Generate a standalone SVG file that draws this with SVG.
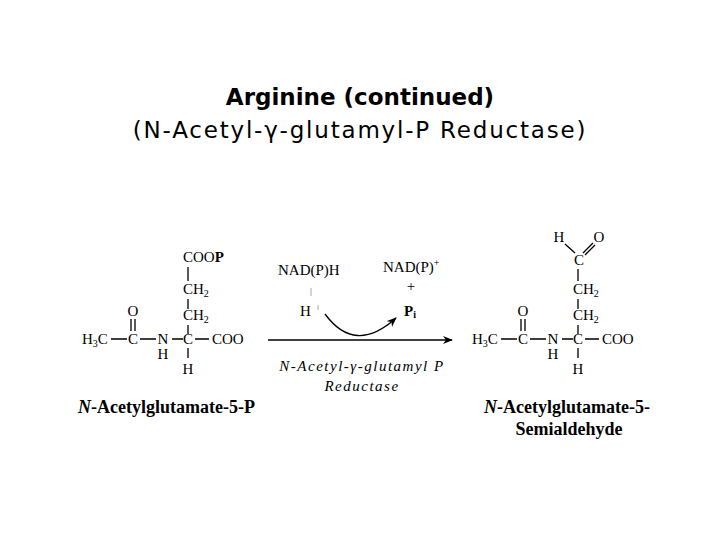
<svg xmlns="http://www.w3.org/2000/svg" width="720" height="540" viewBox="0 0 720 540">
<defs>
<style>
.t{font-family:"DejaVu Sans",sans-serif;font-size:23px;fill:#000;text-anchor:middle}
.c{font-family:"Liberation Serif",serif;font-size:15px;fill:#000}
.m{text-anchor:middle}
.b{font-weight:bold}
.l{stroke:#000;stroke-width:1.3;fill:none}
.lb{font-family:"Liberation Serif",serif;font-size:18px;font-weight:bold;fill:#000}
</style>
<marker id="ah" markerWidth="10" markerHeight="8" refX="9" refY="4" orient="auto" markerUnits="userSpaceOnUse"><path d="M0,0 L10,4 L0,8 L3,4Z" fill="#000"/></marker>
</defs>
<rect width="720" height="540" fill="#fff"/>
<g id="title">
<text class="t" x="360" y="105" font-weight="bold">Arginine (continued)</text>
<text class="t" x="360" y="138" letter-spacing="1.8">(N-Acetyl-γ-glutamyl-P Reductase)</text>
</g>
<g id="substrate">
<text class="c" x="82" y="344">H<tspan font-size="10" dy="3">3</tspan><tspan dy="-3">C</tspan></text>
<text class="c m" x="133" y="344">C</text>
<text class="c m" x="133" y="316">O</text>
<text class="c m" x="163" y="344">N</text>
<text class="c m" x="163" y="359" font-size="11">H</text>
<text class="c m" x="188" y="344">C</text>
<text class="c" x="212" y="344">COO</text>
<text class="c m" x="188" y="374">H</text>
<text class="c" x="183" y="320">CH<tspan font-size="10" dy="3">2</tspan></text>
<text class="c" x="183" y="294">CH<tspan font-size="10" dy="3">2</tspan></text>
<text class="c" x="183" y="262">COO<tspan class="b">P</tspan></text>
<path class="l" d="M111,339H127M140,339H156M172,339H183M195,339H209M131,319V331M135,319V331M188,299V309M188,325V334M188,267V281M188,348V358"/>
<text class="lb" x="78" y="413"><tspan font-style="italic">N</tspan>-Acetylglutamate-5-P</text>
</g>
<g id="product">
<text class="c" x="472" y="344">H<tspan font-size="10" dy="3">3</tspan><tspan dy="-3">C</tspan></text>
<text class="c m" x="523" y="344">C</text>
<text class="c m" x="523" y="316">O</text>
<text class="c m" x="553" y="344">N</text>
<text class="c m" x="553" y="359" font-size="11">H</text>
<text class="c m" x="578" y="344">C</text>
<text class="c" x="602" y="344">COO</text>
<text class="c m" x="578" y="374">H</text>
<text class="c" x="573" y="320">CH<tspan font-size="10" dy="3">2</tspan></text>
<text class="c" x="573" y="294">CH<tspan font-size="10" dy="3">2</tspan></text>
<text class="c m" x="579" y="265">C</text>
<text class="c m" x="559" y="242">H</text>
<text class="c m" x="599" y="242">O</text>
<path class="l" d="M501,339H517M530,339H546M562,339H573M585,339H599M521,319V331M525,319V331M578,299V309M578,325V334M578,269V281M578,348V358M565,244L575,253M583,253L593,243M585,255L595,245"/>
<text class="lb" x="484" y="413"><tspan font-style="italic">N</tspan>-Acetylglutamate-5-</text>
<text class="lb" x="569" y="435" text-anchor="middle">Semialdehyde</text>
</g>
<g id="connectors">
<path class="l" d="M268,340H452" marker-end="url(#ah)"/>
<path class="l" d="M325,314Q355,355 396,318" marker-end="url(#ah)"/>
<path stroke="#aaa" stroke-width="1" d="M311,288V296M318,305V310"/>
</g>
<g id="cofactors">
<text class="c" x="278" y="275">NAD(P)H</text>
<text class="c" x="300" y="316">H</text>
<text class="c" x="383" y="272">NAD(P)<tspan font-size="10" dy="-6">+</tspan></text>
<text class="c m" x="411" y="291">+</text>
<text class="c b" x="404" y="316">P<tspan font-size="10" dy="2">i</tspan></text>
<text class="c m" x="362" y="371" font-style="italic" font-size="19" letter-spacing="1.5">N-Acetyl-γ-glutamyl P</text>
<text class="c m" x="362" y="391" font-style="italic" font-size="19" letter-spacing="1.5">Reductase</text>
</g>
</svg>
